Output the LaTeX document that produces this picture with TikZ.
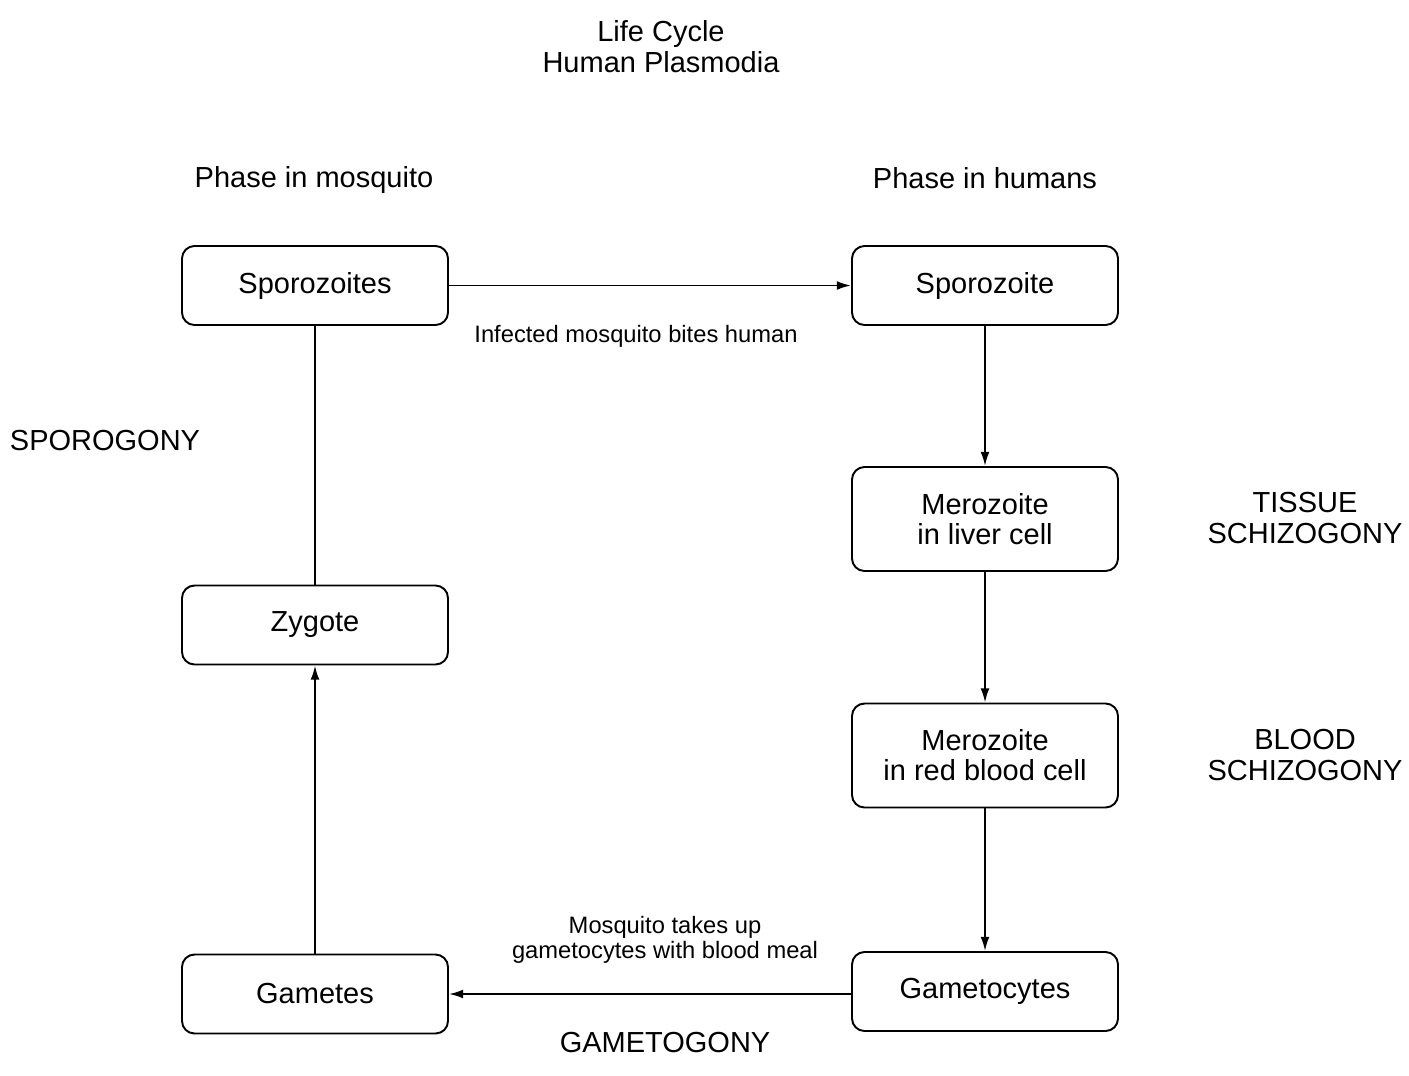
\documentclass[tikz,border=0pt]{standalone}
\usepackage{fontspec}
\setmainfont{Liberation Sans}
\usepackage{tikz}
\usetikzlibrary{shapes.geometric, arrows.meta, positioning}
\tikzstyle{box} = [rectangle, rounded corners=0.25cm, minimum width=5.32cm, minimum height=1.58cm, text centered, align=center, draw=black, line width=1.1pt, font=\fontsize{16.5}{17}\selectfont]
\tikzstyle{arrow} = [line width=1.1pt,-{Latex[length=8pt,width=5pt]}]
\tikzstyle{big} = [align=center, font=\fontsize{16.5}{17.5}\selectfont]
\tikzstyle{small} = [align=center, font=\fontsize{13.5}{14.5}\selectfont]

\begin{document}
\begin{tikzpicture}
    \useasboundingbox (0,0) rectangle (28.18,-21.5);

    % Headings
    \node (title) [big] at (13.22,-0.93) {Life Cycle\\Human Plasmodia};
    \node (mosq) [big] at (6.28,-3.6) {Phase in mosquito};
    \node (hum) [big] at (19.7,-3.56) {Phase in humans};

    % Boxes
    \node (spzs) [box] at (6.30,-5.71) {Sporozoites};
    \node (spz) [box] at (19.70,-5.71) {Sporozoite};
    \node (liver) [box, minimum height=2.08cm] at (19.70,-10.38) {Merozoite\\in liver cell};
    \node (rbc) [box, minimum height=2.08cm] at (19.70,-15.11) {Merozoite\\in red blood cell};
    \node (gcytes) [box] at (19.70,-19.83) {Gametocytes};
    \node (gametes) [box] at (6.30,-19.88) {Gametes};
    \node (zyg) [box] at (6.30,-12.50) {Zygote};

    % Phase names
    \node (sporog) [big] at (2.1,-8.82) {SPOROGONY};
    \node (tissue) [big] at (26.1,-10.36) {TISSUE\\SCHIZOGONY};
    \node (blood) [big] at (26.1,-15.1) {BLOOD\\SCHIZOGONY};
    \node (gametog) [big] at (13.3,-20.86) {GAMETOGONY};

    % Edge labels
    \node (bite) [small] at (12.72,-6.72) {Infected mosquito bites human};
    \node (meal) [small] at (13.3,-18.8) {Mosquito takes up\\gametocytes with blood meal};

    % Edges
    \draw[arrow] (spzs) -- (spz);
    \draw[arrow] (spz) -- (liver);
    \draw[arrow] (liver) -- (rbc);
    \draw[arrow] (rbc) -- (gcytes);
    \draw[arrow] (gcytes.west |- gametes) -- (gametes);
    \draw[arrow] (gametes) -- (zyg);
    \draw[line width=1.1pt] (zyg) -- (spzs);
\end{tikzpicture}
\end{document}
